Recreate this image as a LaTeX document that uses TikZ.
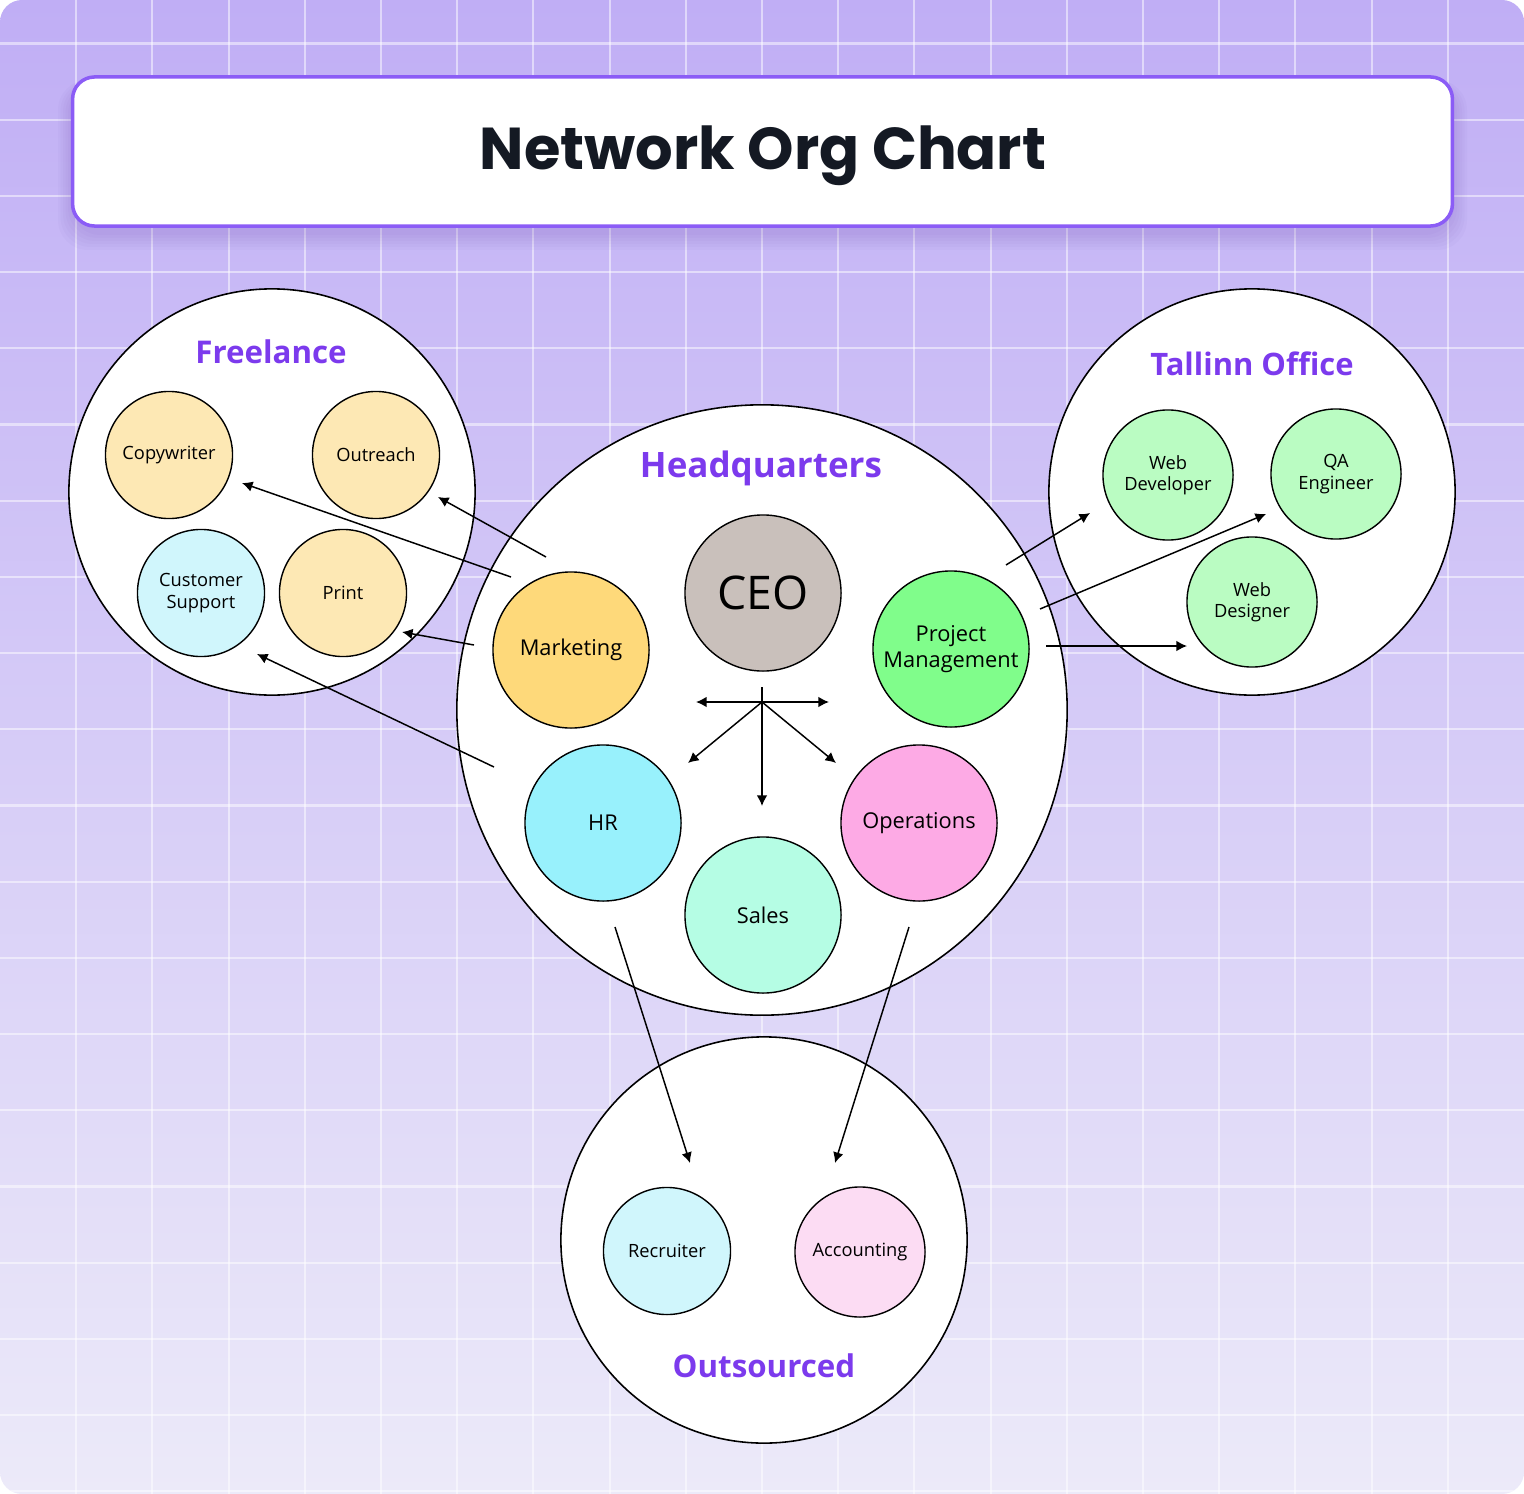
\documentclass[tikz,border=0pt]{standalone}
\usepackage{fontspec}
\setmainfont{Open Sans}
\newfontfamily\titlefont{Poppins}
\usetikzlibrary{arrows.meta}
\definecolor{bgA}{HTML}{C0AEF5}
\definecolor{bgB}{HTML}{CCC0F6}
\definecolor{bgD}{HTML}{ECEAF9}
\definecolor{violet}{HTML}{7C3AED}
\definecolor{frame}{HTML}{8B5CF6}
\definecolor{ink}{HTML}{141923}
\definecolor{amber}{HTML}{FDE8B4}
\definecolor{ice}{HTML}{D0F6FC}
\definecolor{mktc}{HTML}{FED97A}
\definecolor{ceoc}{HTML}{C9C0BB}
\definecolor{pmc}{HTML}{80FD8B}
\definecolor{hrc}{HTML}{98F1FC}
\definecolor{salesc}{HTML}{B5FDE4}
\definecolor{opsc}{HTML}{FDAAE5}
\definecolor{mint}{HTML}{BAFCC2}
\definecolor{blush}{HTML}{FCDCF3}
\newcommand{\unitfont}{\fontsize{5.2}{6.1}\selectfont}
\newcommand{\deptfont}{\fontsize{6.2}{7.4}\selectfont}
\newcommand{\groupfont}{\fontsize{8.9}{11}\selectfont\bfseries}

\begin{document}
\begin{tikzpicture}[x=0.01cm, y=-0.01cm,
    gridline/.style={white, opacity=0.5, line width=0.6pt},
    group/.style={circle, draw, fill=white, line width=0.45pt, minimum size=4.06cm, inner sep=0pt},
    grouplabel/.style={text=violet, font=\groupfont},
    unit/.style={circle, draw, line width=0.4pt, minimum size=1.27cm, inner sep=0pt, align=center, font=\unitfont},
    dept/.style={circle, draw, line width=0.4pt, minimum size=1.56cm, inner sep=0pt, align=center, font=\deptfont},
    link/.style={line width=0.42pt, -{Latex[length=3pt, width=3pt]}}]

  \useasboundingbox (0,0) rectangle (1524,1494);

  % background and grid
  \begin{scope}
    \clip[rounded corners=0.22cm] (0,0) rectangle (1524,1494);
    \shade[top color=bgA, middle color=bgB, bottom color=bgD] (0,0) rectangle (1524,1494);
    \foreach \i in {1,...,19}
      \draw[gridline] (\i*76.2,0) -- (\i*76.2,1494);
    \foreach \j in {0,...,19}
      \draw[gridline] (0,43.5+\j*76.2) -- (1524,43.5+\j*76.2);
  \end{scope}

  % title box
  \foreach \k in {1,...,6}
    \fill[frame!70!black, opacity=0.03, rounded corners=0.3cm]
      (73-\k*2.5,86-\k*1) rectangle (1452+\k*2.5,232+\k*3);
  \node[draw=frame, line width=1pt, fill=white, rounded corners=0.22cm,
        minimum width=13.79cm, minimum height=1.49cm] (title) at (762.5,151.5) {};
  \node[text=ink, font=\titlefont\fontsize{16.8}{20}\selectfont\bfseries] (titleT) at (763,156) {Network Org Chart};

  % group circles
  \node[group] (free) at (272,492) {};
  \node[group] (tln) at (1252,492) {};
  \node[group, minimum size=6.1cm] (hq) at (762,710) {};
  \node[group] (out) at (764,1240) {};

  \node[grouplabel] (freeT) at (271,352) {Freelance};
  \node[grouplabel, font=\fontsize{8.8}{10}\selectfont\bfseries] (tlnT) at (1252,364) {Tallinn Office};
  \node[grouplabel, font=\fontsize{9.95}{12}\selectfont\bfseries] (hqT) at (761,468) {Headquarters};
  \node[grouplabel, font=\fontsize{8.9}{10}\selectfont\bfseries] (outT) at (764,1366) {Outsourced};

  % freelance
  \node[unit, fill=amber] (copy) at (169,455) {Copywriter};
  \node[unit, fill=amber] (outr) at (376,455) {Outreach};
  \node[unit, fill=ice] (cust) at (201,593) {Customer\\Support};
  \node[unit, fill=amber] (print) at (343,593) {Print};

  % headquarters
  \node[dept, fill=ceoc, font=\fontsize{13.2}{15}\selectfont] (ceo) at (763,593) {CEO};
  \node[dept, fill=mktc] (mkt) at (571,650) {Marketing};
  \node[dept, fill=pmc] (pm) at (951,649) {Project\\Management};
  \node[dept, fill=hrc] (hr) at (603,823) {HR};
  \node[dept, fill=salesc] (sales) at (763,915) {Sales};
  \node[dept, fill=opsc] (ops) at (919,823) {Operations};

  % tallinn
  \node[unit, fill=mint, minimum size=1.3cm] (webdev) at (1168,475) {Web\\Developer};
  \node[unit, fill=mint, minimum size=1.3cm] (qa) at (1336,474) {QA\\Engineer};
  \node[unit, fill=mint, minimum size=1.3cm] (webdes) at (1252,602) {Web\\Designer};

  % outsourced
  \node[unit, fill=ice] (recr) at (667,1251) {Recruiter};
  \node[unit, fill=blush, minimum size=1.3cm] (acct) at (860,1252) {Accounting};

  % arrow ends
  \coordinate (mktA) at (511,577);  \coordinate (copyA) at (242,483);
  \coordinate (mktB) at (546,557);  \coordinate (outrA) at (438,497);
  \coordinate (mktC) at (474,645);  \coordinate (printA) at (402,632);
  \coordinate (hrA) at (494,767);   \coordinate (custA) at (257,654);
  \coordinate (pmA) at (1006,565);  \coordinate (webdevA) at (1090,513);
  \coordinate (pmB) at (1040,609);  \coordinate (qaA) at (1266,514);
  \coordinate (pmC) at (1046,646);  \coordinate (webdesA) at (1187,646);
  \coordinate (hrB) at (615,927);   \coordinate (recrA) at (690,1163);
  \coordinate (opsA) at (909,927);  \coordinate (acctA) at (835,1163);
  \coordinate (ceoA) at (762,687);  \coordinate (hub) at (762,702);
  \coordinate (salesA) at (762,806);
  \coordinate (mktD) at (696,702);  \coordinate (pmD) at (829,702);
  \coordinate (hrC) at (688,763);   \coordinate (opsB) at (836,763);

  \draw[link] (mktA) -- (copyA);
  \draw[link] (mktB) -- (outrA);
  \draw[link] (mktC) -- (printA);
  \draw[link] (hrA) -- (custA);
  \draw[link] (pmA) -- (webdevA);
  \draw[link] (pmB) -- (qaA);
  \draw[link] (pmC) -- (webdesA);
  \draw[link] (hrB) -- (recrA);
  \draw[link] (opsA) -- (acctA);

  % CEO fan-out
  \draw[link] (ceoA) -- (salesA);
  \draw[link, {Latex[length=3pt, width=3pt]}-{Latex[length=3pt, width=3pt]}] (mktD) -- (pmD);
  \draw[link] (hub) -- (hrC);
  \draw[link] (hub) -- (opsB);

\end{tikzpicture}
\end{document}
